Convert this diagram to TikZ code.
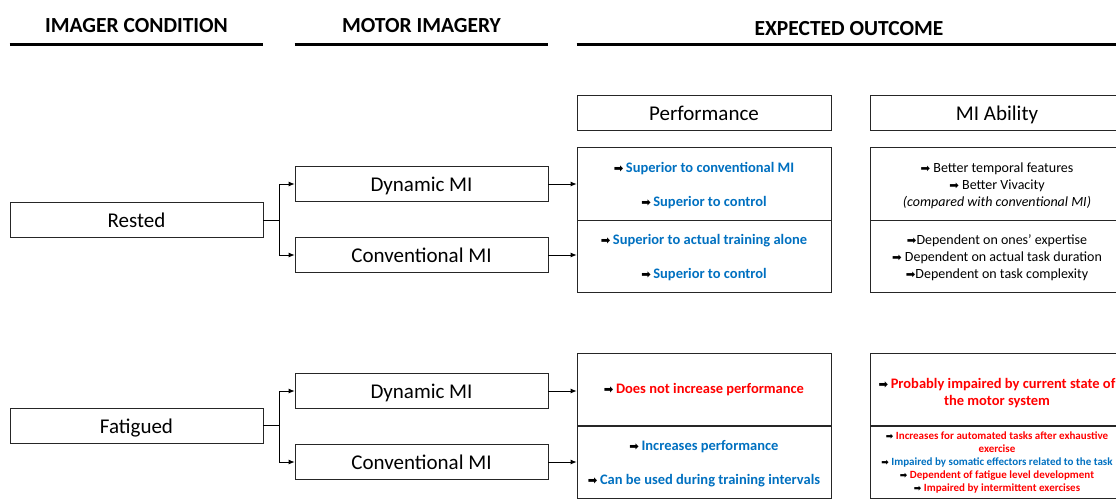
\documentclass[tikz,border=0pt]{standalone}
\usepackage{fontspec}
\setmainfont{Carlito}
\newfontfamily\symfont{DejaVu Sans}
\usepackage{tikz}
\usetikzlibrary{arrows.meta,positioning,calc}
\definecolor{miblue}{RGB}{0,112,192}
\definecolor{mired}{RGB}{255,0,0}
\newcommand{\rarr}[1][11.5]{{\symfont\fontsize{#1}{#1}\selectfont\color{black}➡}}
\newcommand{\up}[1][13pt]{\rule{0pt}{#1}}

\begin{document}
\begin{tikzpicture}[x=1pt,y=-1pt,
  box/.style={draw=black!85,line width=0.8pt,minimum width=253pt,minimum height=35pt,inner sep=0pt,text height=18pt,text depth=3pt,font=\fontsize{21}{25}\selectfont},
  cell/.style={draw=black!85,line width=0.8pt,minimum width=254pt,minimum height=72.5pt,inner sep=0pt,align=center},
  head/.style={font=\bfseries\fontsize{21.5}{25}\selectfont,text height=18pt,text depth=3pt},
  rule/.style={line width=3pt},
  link/.style={line width=0.8pt,-{Latex[length=6pt,width=5pt]}},
  posbig/.style={font=\bfseries\fontsize{14.5}{17}\selectfont,text=miblue},
  negbig/.style={font=\bfseries\fontsize{14.5}{17}\selectfont,text=mired},
  note/.style={font=\fontsize{14}{17}\selectfont},
  small/.style={font=\bfseries\fontsize{11}{13}\selectfont,text=mired}]
\clip (0,0) rectangle (1116,498);

\node[head] (hcond) at (136.5,25) {IMAGER CONDITION};
\node[head] (hmot) at (421.5,25) {MOTOR IMAGERY};
\node[head] (hout) at (849,28) {EXPECTED OUTCOME};
\coordinate (ruleY) at (0,44);

\node[box] (rested) at (136.5,220) {Rested};
\node[box] (dynA) at (421.5,184) {Dynamic MI};
\node[box] (convA) at (421.5,255) {Conventional MI};
\node[box] (fatig) at (136.5,425.5) {Fatigued};
\node[box] (dynB) at (421.5,391) {Dynamic MI};
\node[box] (convB) at (421.5,462) {Conventional MI};
\node[box,minimum width=254pt] (perf) at (704,112.5) {Performance};
\node[box,minimum width=254pt] (abil) at (997,112.5) {MI Ability};

% rested
\node[cell,posbig] (perfA) at (704,184) {\up\rarr\,Superior to conventional MI\\[17pt]\rarr\,Superior to control};
\node[cell,posbig] (perfB) at (704,256.5) {\up\rarr\,Superior to actual training alone\\[17pt]\rarr\,Superior to control};
\node[cell,note] (abilA) at (997,184) {\up\rarr\ Better temporal features\\\rarr\ Better Vivacity\\\textit{(compared with conventional MI)}};
\node[cell,note] (abilB) at (997,256.5) {\up\rarr Dependent on ones' expertise\\\rarr\ Dependent on actual task duration\\\rarr Dependent on task complexity};

% fatigued
\node[cell,negbig] (perfC) at (704,389.5) {\rarr\,Does not increase performance};
\node[cell,posbig] (perfD) at (704,462.5) {\up\rarr\,Increases performance\\[17pt]\rarr\,Can be used during training intervals};
\node[cell,negbig] (abilC) at (997,389.5) {\up[16.5pt]\rarr\,Probably impaired by current state of\\the motor system};
\node[cell,small] (abilD) at (997,462.5) {\rarr[9]\ Increases for automated tasks after exhaustive\\exercise\\
  \rarr[9]\ \textcolor{miblue}{Impaired by somatic effectors related to the task}\\\rarr[9]\ Dependent of fatigue level development\\\rarr[9]\ Impaired by intermittent exercises};

\foreach \col in {rested,dynA}
  \draw[rule] (\col.west |- ruleY) -- (\col.east |- ruleY);
\draw[rule] (perf.west |- ruleY) -- (abil.east |- ruleY);

\foreach \st/\dy/\cv/\pa/\pb/\fk in {rested/dynA/convA/perfA/perfB/forkA,fatig/dynB/convB/perfC/perfD/forkB}{
  \draw[line width=0.8pt] (\st.east) -- ++(16,0) coordinate (\fk);
  \draw[link] (\fk) |- (\dy.west);
  \draw[link] (\fk) |- (\cv.west);
  \draw[link] (\dy.east) -- (\dy.east -| \pa.west);
  \draw[link] (\cv.east) -- (\cv.east -| \pb.west);
}
\end{tikzpicture}
\end{document}
